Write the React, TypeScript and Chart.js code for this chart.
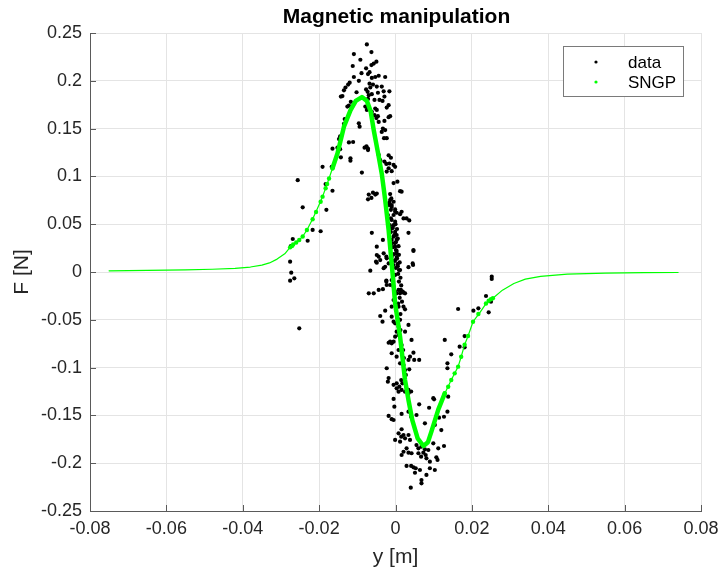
import React, { useEffect, useRef } from "react";
import { Chart, registerables } from "chart.js";

Chart.register(...registerables);

const TITLE = "Magnetic manipulation";
const X_LABEL = "y [m]";
const Y_LABEL = "F [N]";
const LEGEND_LABELS = ["data", "SNGP"];
const X_TICKS = [-0.08, -0.06, -0.04, -0.02, 0, 0.02, 0.04, 0.06, 0.08];
const Y_TICKS = [-0.25, -0.2, -0.15, -0.1, -0.05, 0, 0.05, 0.1, 0.15, 0.2, 0.25];

// measured data (y [m], F [N])
const dataPoints: [number, number][] = [
  [-0.0075, 0.238], [-0.0109, 0.228], [-0.0063, 0.23], [-0.0092, 0.222], [-0.005, 0.22], [-0.0057, 0.218],
  [-0.0063, 0.2165], [-0.0112, 0.2155], [-0.0077, 0.213], [-0.0068, 0.209], [-0.0072, 0.207], [-0.0089, 0.208],
  [-0.0044, 0.2053], [-0.0053, 0.204], [-0.0062, 0.203], [-0.0027, 0.204], [-0.0109, 0.204], [-0.0096, 0.2],
  [-0.012, 0.198], [-0.0124, 0.196], [-0.0068, 0.197], [-0.0059, 0.196], [-0.0049, 0.194], [-0.0066, 0.193],
  [-0.0077, 0.191], [-0.0073, 0.1885], [-0.0036, 0.194], [-0.0031, 0.189], [-0.0016, 0.189], [-0.0046, 0.1875],
  [-0.0131, 0.193], [-0.0135, 0.19], [-0.0102, 0.188], [-0.0143, 0.1835], [-0.0139, 0.184], [-0.007, 0.185],
  [-0.0062, 0.186], [-0.0072, 0.181], [-0.0055, 0.18], [-0.0042, 0.18], [-0.0029, 0.1835], [-0.0034, 0.179],
  [-0.0117, 0.178], [-0.0122, 0.174], [-0.0126, 0.173], [-0.0114, 0.173], [-0.0079, 0.173], [-0.0075, 0.1695],
  [-0.007, 0.1705], [-0.0053, 0.171], [-0.0049, 0.1695], [-0.0062, 0.1675], [-0.0055, 0.164], [-0.0046, 0.163],
  [-0.005, 0.161], [-0.0044, 0.157], [-0.0018, 0.1745], [-0.0023, 0.172], [-0.0133, 0.16], [-0.0135, 0.155],
  [-0.0018, 0.162], [-0.0014, 0.163], [-0.0029, 0.158], [-0.0096, 0.1555], [-0.0094, 0.152], [-0.0033, 0.15],
  [-0.0027, 0.1485], [-0.0036, 0.1465], [-0.0145, 0.142], [-0.0148, 0.139], [-0.003, 0.14], [-0.0023, 0.14],
  [-0.0111, 0.136], [-0.0122, 0.1355], [-0.0076, 0.1315], [-0.0072, 0.129], [-0.0081, 0.13], [-0.0165, 0.129],
  [-0.0152, 0.13], [-0.0145, 0.1285], [-0.0018, 0.122], [-0.0012, 0.1195], [-0.0143, 0.12], [-0.0118, 0.119],
  [-0.0118, 0.1165], [-0.0072, 0.1275], [-0.0088, 0.104], [-0.0256, 0.096], [-0.0191, 0.11], [-0.0167, 0.11],
  [-0.0183, 0.092], [-0.0165, 0.085], [-0.0243, 0.0677], [-0.0181, 0.065], [-0.0196, 0.0426], [-0.0217, 0.044],
  [-0.023, 0.0327], [-0.0269, 0.0345], [-0.0274, 0.0272], [-0.0276, 0.0108], [-0.0273, -0.0007], [-0.0265, -0.0066],
  [-0.0276, -0.0091], [-0.0252, -0.0589],
  [-0.0044, 0.1225], [-0.004, 0.117], [-0.0029, 0.1155], [-0.0024, 0.113], [-0.0016, 0.1135], [-0.0005, 0.112],
  [-0.0018, 0.1085], [-0.0023, 0.105], [-0.001, 0.1055], [-0.0001, 0.11], [-0.0005, 0.093], [0.0005, 0.0945],
  [0.0016, 0.084], [-0.007, 0.081], [-0.0059, 0.083], [-0.0053, 0.081], [-0.0049, 0.082], [-0.0072, 0.076],
  [-0.0063, 0.0775], [-0.0014, 0.0815], [-0.0011, 0.077], [0.0012, 0.0845], [-0.0016, 0.0725], [-0.001, 0.068],
  [-0.0001, 0.0655], [0.0003, 0.062], [0.0012, 0.0605], [0.0016, 0.063], [0.0021, 0.056], [0.0029, 0.056],
  [0.0036, 0.054], [-0.0062, 0.041], [0.0034, 0.041], [-0.0033, 0.0335], [-0.0049, 0.0265], [0.0047, 0.022],
  [-0.0031, 0.0195], [-0.0044, 0.016], [-0.004, 0.0125], [-0.0049, 0.0097], [-0.0023, 0.0143], [-0.0018, 0.009],
  [-0.0027, 0.0055], [-0.0031, 0.004], [0.0045, 0.009], [0.0034, 0.005], [-0.0066, 0.0014], [-0.0024, -0.009],
  [-0.0023, -0.0136], [-0.0014, -0.0136], [-0.0044, -0.0188], [-0.0033, -0.018], [-0.0057, -0.0223], [-0.007, -0.0223],
  [0.0014, -0.0188], [0.0019, -0.0206], [0.0025, -0.0223], [-0.0049, 0.0178], [-0.0024, 0.016], [-0.0051, 0.0108],
  [-0.0024, -0.0101], [0.0047, 0.023], [0.0046, 0.0073],
  [-0.0017, 0.07], [-0.0012, 0.065], [-0.002, 0.0596], [-0.001, 0.0544], [-0.0015, 0.049], [-0.0007, 0.046],
  [-0.0012, 0.0418], [-0.0004, 0.0377], [-0.001, 0.0335], [-0.0002, 0.0303], [-0.0007, 0.026], [0.0001, 0.023],
  [-0.0004, 0.0188], [0.0003, 0.0157], [-0.0002, 0.0115], [0.0006, 0.0084], [0.0001, 0.0042], [0.0009, 0.0021],
  [-0.0014, 0.0753], [-0.0005, 0.0735], [-0.001, 0.07], [-0.0001, 0.063], [-0.0005, 0.0596], [-0.0012, 0.056],
  [-0.0001, 0.0526], [-0.0005, 0.049], [-0.001, 0.0457], [-0.0001, 0.042], [0.0003, 0.0387], [-0.0005, 0.037],
  [0.0003, 0.0335], [-0.001, 0.03], [-0.0001, 0.0265], [0.0003, 0.0196], [-0.001, 0.016], [-0.0001, 0.0125],
  [-0.0005, 0.0073], [-0.0001, -0.0031],
  [0.0, 0.05], [0.0004, 0.045], [-0.0001, 0.04], [0.0006, 0.035], [0.0001, 0.031], [0.0008, 0.027],
  [0.0003, 0.022], [0.0009, 0.018], [0.0004, 0.014], [0.0011, 0.01], [0.0006, 0.006], [0.0012, 0.002],
  [0.0007, -0.002], [0.0013, -0.006], [0.0009, -0.01], [0.0015, -0.014], [0.0011, -0.027], [0.0017, -0.031],
  [0.0007, -0.033], [0.0013, -0.044],
  [-0.001, -0.0084], [-0.0005, -0.0154], [-0.0001, -0.0206], [0.0003, -0.0223], [0.0008, -0.0188], [0.0012, -0.0223],
  [0.0016, -0.0206], [0.0021, -0.0217], [-0.0005, -0.0293], [-0.0001, -0.0327], [-0.001, -0.0363], [0.0008, -0.0363],
  [0.0021, -0.0363], [0.0025, -0.039], [-0.0027, -0.0405], [-0.004, -0.046], [-0.0034, -0.052], [-0.001, -0.0467],
  [-0.0005, -0.052], [-0.0001, -0.0537], [0.0008, -0.0572], [0.0003, -0.0624], [0.0012, -0.05], [-0.0001, -0.0677],
  [0.0008, -0.066], [0.0034, -0.0554], [0.0025, -0.0624], [-0.0014, -0.0729], [-0.0018, -0.074], [-0.001, -0.0746],
  [-0.0005, -0.0729], [0.0042, -0.0711], [0.0016, -0.0764], [0.0008, -0.0816], [-0.001, -0.085], [0.0003, -0.0886],
  [0.0047, -0.0844], [0.0038, -0.0886], [0.0049, -0.092], [0.0062, -0.092], [0.0034, -0.092], [-0.0023, -0.1007],
  [0.0012, -0.0955], [0.0021, -0.0973], [0.0025, -0.1025], [0.0036, -0.1018], [-0.0018, -0.111], [0.0015, -0.113],
  [0.0018, -0.1164], [-0.0005, -0.118], [0.0003, -0.1217], [0.001, -0.12], [0.0016, -0.1234], [0.0034, -0.1234],
  [0.0041, -0.125], [0.0099, -0.132], [0.002, -0.0816], [0.0022, -0.09], [0.0027, -0.1077], [0.0013, -0.0607],
  [0.0005, -0.048], [0.0001, -0.0397],
  [-0.002, -0.1147], [0.0003, -0.1164], [0.0008, -0.1252], [0.0025, -0.1252], [0.0034, -0.1269], [0.0101, -0.1332],
  [0.0138, -0.1304], [-0.0005, -0.1328], [-0.0003, -0.1409], [-0.0018, -0.1506], [-0.001, -0.154], [-0.0005, -0.1548],
  [0.0062, -0.1384], [0.0088, -0.142], [0.0016, -0.1485], [0.0034, -0.1461], [0.0041, -0.1514], [0.0055, -0.1496],
  [0.0136, -0.1461], [0.0127, -0.1514], [0.0114, -0.1524], [0.0077, -0.1583], [0.0103, -0.16], [0.0016, -0.1645],
  [0.0008, -0.1687], [0.0021, -0.1705], [0.0015, -0.1723], [0.0025, -0.174], [0.0034, -0.1705], [0.0038, -0.1757],
  [0.012, -0.1653], [-0.0001, -0.1757], [0.0012, -0.1775], [0.0099, -0.1792], [0.0112, -0.1844], [0.0127, -0.182],
  [0.0055, -0.181], [0.006, -0.1844], [0.0068, -0.1827], [0.0077, -0.1855], [0.0086, -0.1862], [0.0029, -0.1844],
  [0.0021, -0.188], [0.0034, -0.189], [0.0016, -0.1914], [0.0042, -0.1896], [0.006, -0.1896], [0.0073, -0.189],
  [0.0067, -0.1932], [0.0079, -0.1914], [0.0081, -0.1949], [0.0107, -0.1938], [0.011, -0.1966], [0.009, -0.1984],
  [0.0029, -0.2029], [0.0041, -0.2029], [0.0047, -0.2043], [0.0053, -0.2053], [0.0064, -0.2071], [0.009, -0.2053],
  [0.0103, -0.2071], [0.0081, -0.2123], [0.0051, -0.21], [0.0068, -0.2176], [0.0068, -0.221], [0.004, -0.2256],
  [0.0164, -0.0387], [0.0204, -0.0405], [0.0237, -0.0251], [0.0129, -0.0711], [0.0168, -0.0781], [0.0181, -0.0788],
  [0.0181, -0.067], [0.0146, -0.0861], [0.0136, -0.0955], [0.0136, -0.1007], [0.0252, -0.0049], [0.0252, -0.0073],
  [0.025, -0.031], [0.0217, -0.038], [0.0244, -0.0422],
];

// SNGP predictive mean curve
const sngpCurve: [number, number][] = [
  [-0.075, 0.0012], [-0.065, 0.0016], [-0.055, 0.0023], [-0.048, 0.0029], [-0.042, 0.0038], [-0.038, 0.0052],
  [-0.035, 0.0072], [-0.033, 0.0095], [-0.031, 0.0135], [-0.029, 0.019], [-0.0276, 0.0258], [-0.026, 0.031],
  [-0.0243, 0.0371], [-0.0232, 0.0439], [-0.0217, 0.0555], [-0.0205, 0.066], [-0.0191, 0.0788], [-0.0179, 0.092],
  [-0.0165, 0.1085], [-0.0152, 0.124], [-0.0135, 0.152], [-0.0118, 0.169], [-0.0104, 0.179], [-0.0088, 0.183],
  [-0.0075, 0.179], [-0.0065, 0.168], [-0.0057, 0.1485], [-0.0044, 0.1206], [-0.0036, 0.103], [-0.0027, 0.0753],
  [-0.0018, 0.0439], [-0.0008, 0.0], [-0.0001, -0.0327], [0.0012, -0.0677], [0.0025, -0.113], [0.0034, -0.134],
  [0.0044, -0.155], [0.0058, -0.174], [0.0073, -0.182], [0.0085, -0.178], [0.0094, -0.167], [0.0112, -0.144],
  [0.0129, -0.127], [0.0146, -0.113], [0.0155, -0.106], [0.0164, -0.099], [0.0172, -0.0886], [0.0181, -0.076],
  [0.019, -0.067], [0.0203, -0.052], [0.022, -0.043], [0.0237, -0.033], [0.0255, -0.0275], [0.028, -0.019],
  [0.031, -0.012], [0.034, -0.0075], [0.038, -0.0045], [0.045, -0.0022], [0.055, -0.0012], [0.065, -0.0007],
  [0.074, -0.0005],
];

// SNGP predictions at the sparse wing inputs
const sngpDots: [number, number][] = [
  [-0.0276, 0.0258], [-0.0271, 0.0272], [-0.0268, 0.0288], [-0.026, 0.0309], [-0.0252, 0.0335], [-0.0243, 0.0371],
  [-0.0232, 0.0439], [-0.0217, 0.0551], [-0.0208, 0.0628], [-0.0196, 0.0735], [-0.0191, 0.0788], [-0.0183, 0.0876],
  [-0.0179, 0.092], [-0.0174, 0.0978], [-0.0165, 0.1085],
  [0.0129, -0.127], [0.0138, -0.12], [0.0146, -0.113], [0.0155, -0.106], [0.0164, -0.099], [0.0172, -0.0886],
  [0.0181, -0.076], [0.019, -0.067], [0.0203, -0.052], [0.0217, -0.044], [0.0237, -0.033], [0.0244, -0.03],
  [0.025, -0.0285], [0.0255, -0.0275],
];

const THICK_FROM = -0.0166;
const THICK_TO = 0.013;

const FONT = "'Liberation Sans', Arial, Helvetica, sans-serif";
const GREEN = "#00ff00";
const AXIS_COLOR = "#5a5a5a";
const TEXT_COLOR = "#262626";
const GRID_COLOR = "#e4e4e4";

const fmt = (v: number) => String(Number(v.toFixed(2)));

const decorPlugin = {
  id: "decor",
  afterDraw(chart: any) {
    const { ctx, chartArea: a, scales } = chart;
    ctx.save();
    // inward tick marks
    ctx.strokeStyle = AXIS_COLOR;
    ctx.lineWidth = 1;
    ctx.beginPath();
    X_TICKS.forEach((v) => {
      const x = Math.round(scales.x.getPixelForValue(v)) + 0.5;
      ctx.moveTo(x, a.bottom);
      ctx.lineTo(x, a.bottom - 6);
    });
    Y_TICKS.forEach((v) => {
      const y = Math.round(scales.y.getPixelForValue(v)) + 0.5;
      ctx.moveTo(a.left, y);
      ctx.lineTo(a.left + 6, y);
    });
    ctx.stroke();

    // title
    ctx.fillStyle = "#000";
    ctx.textAlign = "center";
    ctx.textBaseline = "middle";
    ctx.font = `bold 21px ${FONT}`;
    ctx.fillText(TITLE, (a.left + a.right) / 2 + 1, 17);

    // axis labels
    ctx.fillStyle = TEXT_COLOR;
    ctx.font = `21px ${FONT}`;
    ctx.fillText(X_LABEL, (a.left + a.right) / 2, 557);
    ctx.save();
    ctx.translate(22, (a.top + a.bottom) / 2);
    ctx.rotate(-Math.PI / 2);
    ctx.fillText(Y_LABEL, 0, 0);
    ctx.restore();

    // legend
    const bw = 120;
    const bh = 50;
    const bx = a.right - 18 - bw;
    const by = a.top + 13;
    ctx.fillStyle = "#fff";
    ctx.fillRect(bx, by, bw, bh);
    ctx.strokeStyle = "#7a7a7a";
    ctx.strokeRect(bx + 0.5, by + 0.5, bw, bh);
    const colors = ["#000", GREEN];
    LEGEND_LABELS.forEach((lab, i) => {
      const cy = by + 16 + i * 20;
      ctx.fillStyle = colors[i];
      ctx.beginPath();
      ctx.arc(bx + 33, cy, 1.6, 0, Math.PI * 2);
      ctx.fill();
      ctx.fillStyle = "#000";
      ctx.textAlign = "left";
      ctx.font = `17px ${FONT}`;
      ctx.fillText(lab, bx + 65, cy + 1);
    });
    ctx.restore();
  },
};

export default function App() {
  const ref = useRef<HTMLCanvasElement | null>(null);

  useEffect(() => {
    if (!ref.current) return;
    const chart = new Chart(ref.current, {
      type: "scatter",
      data: {
        datasets: [
          {
            label: "SNGP",
            data: sngpCurve.map(([x, y]) => ({ x, y })),
            showLine: true,
            pointRadius: 0,
            borderColor: GREEN,
            borderWidth: 1.2,
            borderCapStyle: "round",
            borderJoinStyle: "round",
            segment: {
              borderWidth: (ctx: any) =>
                ctx.p0.parsed.x >= THICK_FROM && ctx.p1.parsed.x <= THICK_TO ? 4.5 : 1.2,
            },
            order: 0,
          } as any,
          {
            label: "SNGP points",
            data: sngpDots.map(([x, y]) => ({ x, y })),
            showLine: false,
            pointRadius: 2.2,
            pointBackgroundColor: GREEN,
            pointBorderWidth: 0,
            order: 1,
          },
          {
            label: "data",
            data: dataPoints.map(([x, y]) => ({ x, y })),
            showLine: false,
            pointRadius: 2.1,
            pointBackgroundColor: "#000",
            pointBorderWidth: 0,
            order: 2,
          },
        ],
      },
      options: {
        animation: false,
        responsive: false,
        devicePixelRatio: 1,
        layout: { padding: { top: 33, right: 18, left: 0, bottom: 0 } },
        plugins: {
          legend: { display: false },
          title: { display: false },
          tooltip: { enabled: false },
        },
        scales: {
          x: {
            type: "linear",
            min: -0.08,
            max: 0.08,
            afterBuildTicks: (s: any) => {
              s.ticks = X_TICKS.map((v) => ({ value: v }));
            },
            afterFit: (s: any) => {
              s.height = 64;
              s.paddingLeft = 0;
              s.paddingRight = 0;
            },
            ticks: {
              callback: (v: any) => fmt(Number(v)),
              color: TEXT_COLOR,
              font: { family: FONT, size: 18 },
              padding: 7,
              maxRotation: 0,
            },
            grid: { color: GRID_COLOR, drawTicks: false },
            border: { display: true, color: AXIS_COLOR, width: 1 },
          },
          y: {
            type: "linear",
            min: -0.25,
            max: 0.25,
            afterBuildTicks: (s: any) => {
              s.ticks = Y_TICKS.map((v) => ({ value: v }));
            },
            afterFit: (s: any) => {
              s.width = 90;
              s.paddingTop = 0;
              s.paddingBottom = 0;
            },
            ticks: {
              callback: (v: any) => fmt(Number(v)),
              color: TEXT_COLOR,
              font: { family: FONT, size: 18 },
              padding: 8,
            },
            grid: { color: GRID_COLOR, drawTicks: false },
            border: { display: true, color: AXIS_COLOR, width: 1 },
          },
        },
      },
      plugins: [decorPlugin],
    });
    return () => chart.destroy();
  }, []);

  return (
    <div style={{ position: "absolute", left: 0, top: 0, width: 719, height: 575, background: "#fff" }}>
      <canvas ref={ref} width={719} height={575} style={{ display: "block" }} />
    </div>
  );
}
